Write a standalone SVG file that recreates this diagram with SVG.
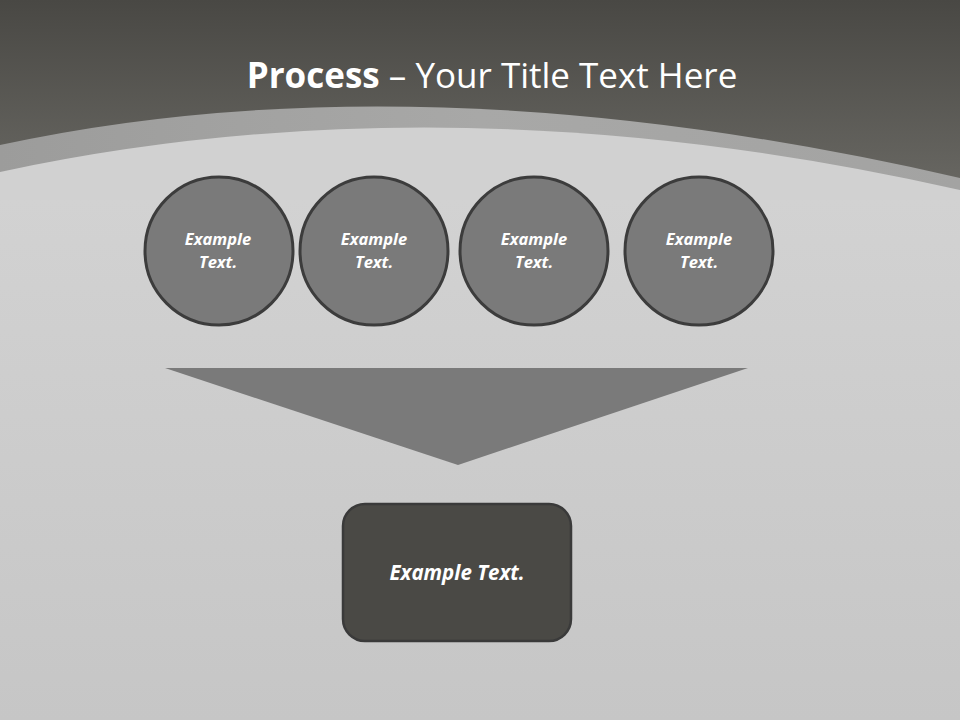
<svg xmlns="http://www.w3.org/2000/svg" width="960" height="720" viewBox="0 0 960 720">
<defs>
<linearGradient id="bg" x1="0" y1="0" x2="0" y2="1">
<stop offset="0" stop-color="#d2d2d2"/>
<stop offset="1" stop-color="#c6c6c6"/>
</linearGradient>
<linearGradient id="hdr" x1="0" y1="0" x2="0" y2="1">
<stop offset="0" stop-color="#494844"/>
<stop offset="1" stop-color="#6a6964"/>
</linearGradient>
<linearGradient id="band" x1="0" y1="0" x2="1" y2="0">
<stop offset="0" stop-color="#9c9c9b"/>
<stop offset="0.5" stop-color="#a8a8a7"/>
<stop offset="1" stop-color="#a3a3a2"/>
</linearGradient>
<style>
.circ{fill:#7a7a7a;stroke:#3c3c3c;stroke-width:3}
.lbl{font-family:"Open Sans","Liberation Sans",sans-serif;font-weight:bold;font-style:italic;fill:#ffffff;text-anchor:middle}
</style>
</defs>
<rect width="960" height="720" fill="url(#bg)"/>
<rect width="960" height="200" fill="url(#hdr)"/>
<path d="M0,145 Q420,54 960,178 L960,200 L0,200 Z" fill="url(#band)"/>
<rect y="199" width="960" height="521" fill="url(#bg)"/>
<path d="M0,172 Q450,75 960,190 L960,200 L0,200 Z" fill="#d1d1d1"/>
<text x="492" y="88" font-family="'Open Sans','Liberation Sans',sans-serif" font-size="35" fill="#ffffff" text-anchor="middle"><tspan font-weight="bold">Process</tspan> – Your Title Text Here</text>
<g id="node1"><circle class="circ" cx="219" cy="251" r="74"/><text class="lbl" font-size="16.5" x="218" y="245">Example</text><text class="lbl" font-size="16.5" x="218" y="268">Text.</text></g>
<g id="node2"><circle class="circ" cx="374" cy="251" r="74"/><text class="lbl" font-size="16.5" x="374" y="245">Example</text><text class="lbl" font-size="16.5" x="374" y="268">Text.</text></g>
<g id="node3"><circle class="circ" cx="534" cy="251" r="74"/><text class="lbl" font-size="16.5" x="534" y="245">Example</text><text class="lbl" font-size="16.5" x="534" y="268">Text.</text></g>
<g id="node4"><circle class="circ" cx="699" cy="251" r="74"/><text class="lbl" font-size="16.5" x="699" y="245">Example</text><text class="lbl" font-size="16.5" x="699" y="268">Text.</text></g>
<g id="connectors"><polygon points="165,368 748,368 458,465" fill="#7a7a7a"/></g>
<g id="node5"><rect x="343" y="504" width="228" height="137" rx="22" fill="#4a4945" stroke="#3a3a3a" stroke-width="2.5"/><text class="lbl" font-size="20.5" x="457" y="580">Example Text.</text></g>
</svg>
